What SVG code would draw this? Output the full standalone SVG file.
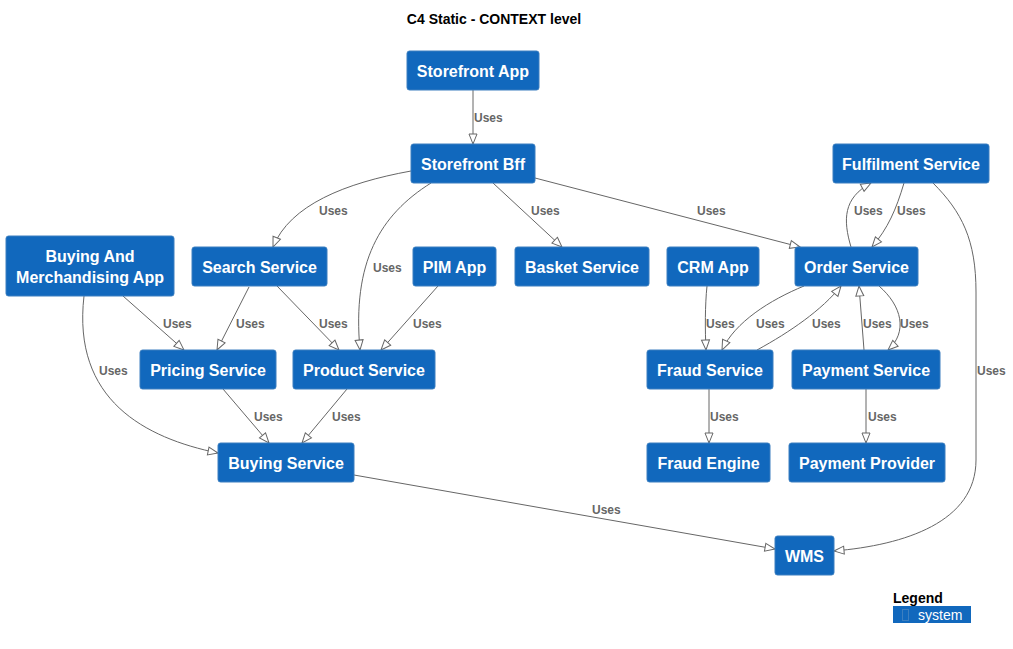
<svg xmlns="http://www.w3.org/2000/svg" width="1013" height="649" viewBox="0 0 1013 649">
<defs>
<marker id="arr" viewBox="0 0 10 8" refX="10" refY="4" markerWidth="10" markerHeight="8" orient="auto" markerUnits="userSpaceOnUse" overflow="visible"><path d="M0,0 L10,4 L0,8 Z" fill="#fff" stroke="#666" stroke-width="1"/></marker>
<style>
.n rect{fill:#1168BD;stroke:#3C7FC0;stroke-width:1}
.n text{fill:#fff;font-family:"Liberation Sans",Arial,sans-serif;font-weight:bold;font-size:16px;text-anchor:middle}
.e path{fill:none;stroke:#666;stroke-width:1;marker-end:url(#arr)}
.l{fill:#666;font-family:"Liberation Sans",Arial,sans-serif;font-weight:bold;font-size:12px}
</style>
</defs>
<rect width="1013" height="649" fill="#fff"/>
<text x="494" y="24" font-family="'Liberation Sans',Arial,sans-serif" font-weight="bold" font-size="14" text-anchor="middle" fill="#000">C4 Static - CONTEXT level</text>
<g id="connectors" class="e">
<path d="M473,90 L473,144"/>
<path d="M411,171 C345,183 290,205 273,247"/>
<path d="M431,183 C380,215 352,262 360,350"/>
<path d="M493,183 L562,247"/>
<path d="M535,178 L800,247"/>
<path d="M904,183 C896,210 888,228 872,247"/>
<path d="M851,247 C843,220 843,198 871,183"/>
<path d="M933,183 C962,212 976,240 976,292 L976,460 C976,522 905,545 834,551"/>
<path d="M804,286 C770,300 735,322 722,350"/>
<path d="M757,350 C790,332 822,310 841,286"/>
<path d="M707,286 C705,305 705,330 706,350"/>
<path d="M864,350 L859,286"/>
<path d="M879,286 C902,306 908,332 888,350"/>
<path d="M709,389 L709,443"/>
<path d="M866,389 L866,443"/>
<path d="M123,296 L184,350"/>
<path d="M84,296 C72,400 145,438 218,453"/>
<path d="M249,287 L217,350"/>
<path d="M277,286 L339,350"/>
<path d="M438,286 L381,350"/>
<path d="M223,389 L269,443"/>
<path d="M347,389 L302,443"/>
<path d="M354,475 L775,549"/>
</g>
<g id="labels">
<text class="l" x="474" y="122">Uses</text>
<text class="l" x="319" y="215">Uses</text>
<text class="l" x="373" y="272">Uses</text>
<text class="l" x="531" y="215">Uses</text>
<text class="l" x="697" y="215">Uses</text>
<text class="l" x="897" y="215">Uses</text>
<text class="l" x="854" y="215">Uses</text>
<text class="l" x="977" y="375">Uses</text>
<text class="l" x="756" y="328">Uses</text>
<text class="l" x="812" y="328">Uses</text>
<text class="l" x="706" y="328">Uses</text>
<text class="l" x="863" y="328">Uses</text>
<text class="l" x="900" y="328">Uses</text>
<text class="l" x="710" y="421">Uses</text>
<text class="l" x="868" y="421">Uses</text>
<text class="l" x="163" y="328">Uses</text>
<text class="l" x="99" y="375">Uses</text>
<text class="l" x="236" y="328">Uses</text>
<text class="l" x="319" y="328">Uses</text>
<text class="l" x="413" y="328">Uses</text>
<text class="l" x="254" y="421">Uses</text>
<text class="l" x="332" y="421">Uses</text>
<text class="l" x="592" y="514">Uses</text>
</g>
<g id="storefront-app" class="n"><rect x="407" y="51" width="132" height="39" rx="2.5"/><text x="473" y="77">Storefront App</text></g>
<g id="storefront-bff" class="n"><rect x="411" y="144" width="124" height="39" rx="2.5"/><text x="473" y="170">Storefront Bff</text></g>
<g id="fulfilment-service" class="n"><rect x="833" y="144" width="156" height="39" rx="2.5"/><text x="911" y="170">Fulfilment Service</text></g>
<g id="buying-and-merchandising-app" class="n"><rect x="6" y="236" width="168" height="60" rx="2.5"/><text x="90" y="262">Buying And</text><text x="90" y="283">Merchandising App</text></g>
<g id="search-service" class="n"><rect x="192" y="247" width="135" height="39" rx="2.5"/><text x="259.5" y="273">Search Service</text></g>
<g id="pim-app" class="n"><rect x="413" y="247" width="83" height="39" rx="2.5"/><text x="454.5" y="273">PIM App</text></g>
<g id="basket-service" class="n"><rect x="515" y="247" width="134" height="39" rx="2.5"/><text x="582" y="273">Basket Service</text></g>
<g id="crm-app" class="n"><rect x="667" y="247" width="92" height="39" rx="2.5"/><text x="713" y="273">CRM App</text></g>
<g id="order-service" class="n"><rect x="795" y="247" width="123" height="39" rx="2.5"/><text x="856.5" y="273">Order Service</text></g>
<g id="pricing-service" class="n"><rect x="140" y="350" width="136" height="39" rx="2.5"/><text x="208" y="376">Pricing Service</text></g>
<g id="product-service" class="n"><rect x="293" y="350" width="142" height="39" rx="2.5"/><text x="364" y="376">Product Service</text></g>
<g id="fraud-service" class="n"><rect x="647" y="350" width="126" height="39" rx="2.5"/><text x="710" y="376">Fraud Service</text></g>
<g id="payment-service" class="n"><rect x="792" y="350" width="148" height="39" rx="2.5"/><text x="866" y="376">Payment Service</text></g>
<g id="buying-service" class="n"><rect x="218" y="443" width="136" height="39" rx="2.5"/><text x="286" y="469">Buying Service</text></g>
<g id="fraud-engine" class="n"><rect x="647" y="443" width="123" height="39" rx="2.5"/><text x="708.5" y="469">Fraud Engine</text></g>
<g id="payment-provider" class="n"><rect x="789" y="443" width="156" height="39" rx="2.5"/><text x="867" y="469">Payment Provider</text></g>
<g id="wms" class="n"><rect x="775" y="536" width="59" height="39" rx="2.5"/><text x="804.5" y="562">WMS</text></g>
<g id="legend">
<text x="893" y="603" font-family="'Liberation Sans',Arial,sans-serif" font-weight="bold" font-size="14" fill="#000">Legend</text>
<rect x="893" y="606" width="78" height="17" fill="#1168BD"/>
<rect x="902.5" y="609.5" width="6" height="11" fill="none" stroke="#3C7FC0" stroke-width="1"/>
<text x="918" y="620" font-family="'Liberation Sans',Arial,sans-serif" font-size="14" fill="#fff">system</text>
</g>
</svg>
